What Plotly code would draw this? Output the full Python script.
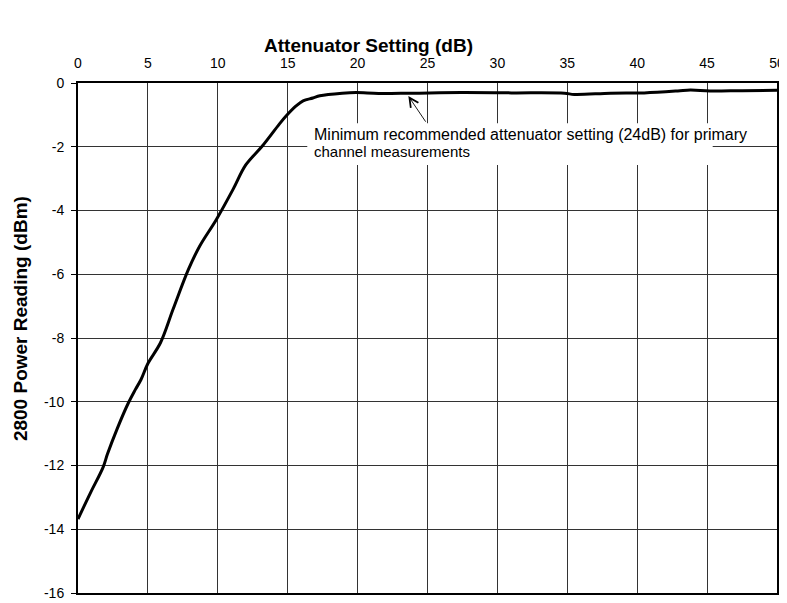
import plotly.graph_objects as go

atten_db = [0.0, 0.9, 1.8, 2.1, 2.8, 3.6, 4.1, 4.5, 5.0, 5.9, 6.8, 7.9, 8.7, 9.9,
            11.1, 12.0, 13.2, 14.4, 14.9, 15.6, 16.1, 16.8, 17.3, 18.9, 19.9,
            21.5, 23.9, 27.4, 31.0, 34.8, 35.5, 38.1, 40.5, 42.9, 43.8, 45.2,
            47.5, 50.0]
power_dbm = [-13.68, -12.85, -12.05, -11.65, -10.85, -10.04, -9.62, -9.31, -8.8,
             -8.15, -7.1, -5.85, -5.12, -4.28, -3.33, -2.57, -1.97, -1.29, -1.03,
             -0.72, -0.56, -0.47, -0.4, -0.32, -0.3, -0.33, -0.32, -0.3, -0.31,
             -0.32, -0.36, -0.32, -0.31, -0.25, -0.22, -0.25, -0.24, -0.23]

x_ticks = list(range(0, 51, 5))
y_ticks = list(range(-16, 1, 2))
y_tick_labels = [str(v) for v in y_ticks]  # plain hyphen minus like the original

note_line1 = "Minimum recommended attenuator setting (24dB) for primary"
note_line2 = "channel measurements"

FONT = "Liberation Sans, Arial"

fig = go.Figure()
fig.add_trace(go.Scatter(
    x=atten_db, y=power_dbm, mode="lines",
    line=dict(color="black", width=3, shape="spline", smoothing=1.0),
    showlegend=False,
))

# white text box (drawn over the grid, under the curve)
fig.add_shape(
    type="rect", xref="x", yref="y", x0=16.4, x1=45.4, y0=-2.57, y1=-1.26,
    fillcolor="white", line=dict(width=0), layer="between",
)
fig.add_annotation(
    x=16.8, y=-1.61, xref="x", yref="y", xanchor="left", yanchor="middle",
    text=note_line1, showarrow=False, borderpad=0,
    font=dict(family=FONT, size=16, color="black"),
)
fig.add_annotation(
    x=16.8, y=-2.16, xref="x", yref="y", xanchor="left", yanchor="middle",
    text=note_line2, showarrow=False, borderpad=0,
    font=dict(family=FONT, size=15, color="black"),
)
# pointer arrow to the 24 dB point
fig.add_annotation(
    x=23.63, y=-0.41, ax=24.94, ay=-1.26, xref="x", yref="y",
    axref="x", ayref="y", text="", showarrow=True,
    arrowhead=5, arrowsize=2, arrowwidth=0.9, arrowcolor="black",
)

# axis titles (offset from the plot centre as in the original)
fig.add_annotation(
    x=0.416, y=1.0745, xref="paper", yref="paper",
    xanchor="center", yanchor="middle", showarrow=False,
    text="<b>Attenuator Setting (dB)</b>",
    font=dict(family=FONT, size=19, color="black"),
)
fig.add_annotation(
    x=-0.083, y=0.539, xref="paper", yref="paper", textangle=-90,
    xanchor="center", yanchor="middle", showarrow=False,
    text="<b>2800 Power Reading (dBm)</b>",
    font=dict(family=FONT, size=19, color="black"),
)

axis_font = dict(family=FONT, size=14, color="black")
fig.update_xaxes(
    range=[0, 50], tickvals=x_ticks, side="top",
    showgrid=True, gridcolor="#333333", gridwidth=1,
    showline=True, linecolor="black", linewidth=2, mirror=True,
    ticks="", tickfont=axis_font, ticklabelstandoff=7, automargin=False,
    zeroline=False,
)
fig.update_yaxes(
    range=[-16, 0], tickvals=y_ticks, ticktext=y_tick_labels,
    showgrid=True, gridcolor="#333333", gridwidth=1,
    showline=True, linecolor="black", linewidth=2, mirror=True,
    ticks="outside", ticklen=5, tickcolor="black", tickfont=axis_font,
    ticklabelstandoff=4, automargin=False,
    zeroline=False,
)

# page body adds an 8px margin, so the figure is a little smaller than the window
fig.update_layout(
    width=779, height=595,
    plot_bgcolor="white", paper_bgcolor="white",
    margin=dict(l=70, r=10, t=75, b=10),
)

fig.write_html("out.html")
